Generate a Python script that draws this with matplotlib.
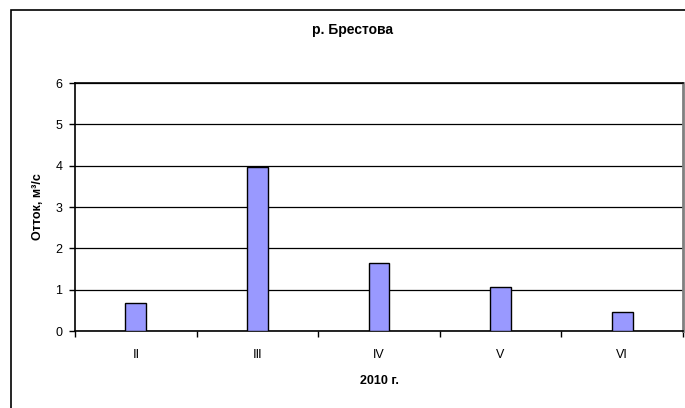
import matplotlib
matplotlib.use("Agg")
import matplotlib.pyplot as plt
from matplotlib.patches import Rectangle
import numpy as np

plt.rcParams['font.family'] = ['Liberation Sans', 'DejaVu Sans']

# monthly runoff, 2010
months = ["Ⅱ", "Ⅲ", "IV", "V", "VI"]
runoff = [0.67, 3.97, 1.64, 1.06, 0.45]

fig = plt.figure(figsize=(6.85, 4.08), dpi=100)

# outer chart frame
fig.patches.append(Rectangle((10.5 / 685, -0.05), 1.0, 1 - 9.5 / 408 + 0.05,
                             transform=fig.transFigure, fill=False,
                             edgecolor="black", linewidth=1.2, zorder=0))

ax = fig.add_axes([75 / 685, 1 - 331 / 408, 608 / 685, 248 / 408])

x = np.arange(len(months))
ax.bar(x, runoff, width=0.17, color="#9999ff", edgecolor="black",
       linewidth=1.0, zorder=3)

ax.set_xlim(-0.5, len(months) - 0.5)
ax.set_ylim(0, 6)
ax.set_yticks(range(0, 7))
ax.yaxis.grid(True, color="black", linewidth=0.9)
ax.set_axisbelow(True)

# category labels between boundary ticks
ax.set_xticks(np.arange(-0.5, len(months), 1.0))
ax.set_xticklabels([])
ax.set_xticks(x, minor=True)
ax.set_xticklabels(months, minor=True)
ax.tick_params(axis="x", which="minor", length=0, pad=13, labelsize=9)
ax.tick_params(axis="x", which="major", length=4.5, width=1.0, direction="out")
ax.tick_params(axis="y", length=4.5, width=1.0, direction="out", labelsize=9, pad=4.5)

for side in ["left", "bottom", "top"]:
    ax.spines[side].set_color("black")
    ax.spines[side].set_linewidth(1.2)
ax.spines["right"].set_color("#808080")
ax.spines["right"].set_linewidth(2.0)

ax.set_ylabel("Отток, м³/с", fontsize=9, fontweight="bold", labelpad=8)
ax.set_xlabel("2010 г.", fontsize=9, fontweight="bold", labelpad=10)
fig.text(352 / 685, 1 - 30 / 408, "р. Брестова", fontsize=10,
         fontweight="bold", ha="center", va="center")

fig.savefig("out.png", dpi=100)
